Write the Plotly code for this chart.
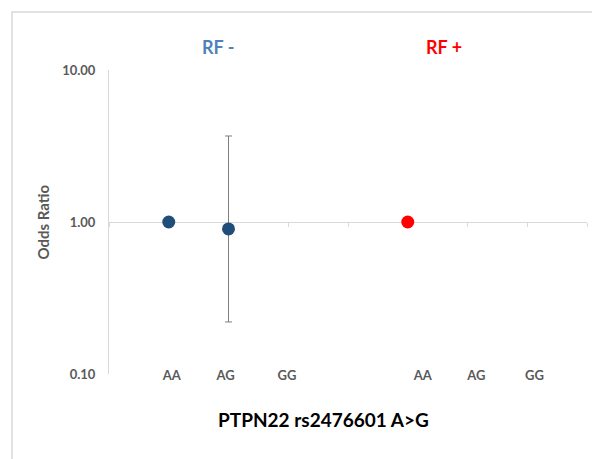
import plotly.graph_objects as go

# ---- data ----
categories = ["AA", "AG", "GG", "AA", "AG", "GG"]
label_pos = [1.05, 1.95, 2.98, 5.25, 6.15, 7.12]

rf_neg_x = [1, 2]
rf_neg_or = [1.00, 0.90]
rf_neg_upper = [1.00, 3.68]
rf_neg_lower = [1.00, 0.22]

rf_pos_x = [5]
rf_pos_or = [1.00]

y_tickvals = [0.1, 1, 10]
y_ticktext = ["0.10", "1.00", "10.00"]

FONT = "Lato"
GRAY = "#595959"
LINE = "#D9D9D9"

err_plus = [u - v for u, v in zip(rf_neg_upper, rf_neg_or)]
err_minus = [v - l for v, l in zip(rf_neg_or, rf_neg_lower)]

fig = go.Figure()

fig.add_trace(go.Scatter(
    x=rf_neg_x, y=rf_neg_or, mode="markers",
    marker=dict(color="#1F4E79", size=13),
    error_y=dict(type="data", symmetric=False, array=err_plus, arrayminus=err_minus,
                 color="#7F7F7F", thickness=1, width=3.5),
    showlegend=False, xaxis="x2",
))
fig.add_trace(go.Scatter(
    x=rf_pos_x, y=rf_pos_or, mode="markers",
    marker=dict(color="#FF0000", size=13),
    showlegend=False, xaxis="x2",
))

fig.update_layout(
    width=592, height=459,
    margin=dict(l=109, r=5, t=70, b=85),
    paper_bgcolor="white", plot_bgcolor="white",
    font=dict(family=FONT, color=GRAY),
    xaxis=dict(
        range=[0, 8], tickvals=label_pos, ticktext=categories,
        showline=False, showgrid=False, zeroline=False, ticks="",
        tickfont=dict(family=FONT, size=13, color=GRAY, weight="bold"),
        ticklabelstandoff=-8,
    ),
    xaxis2=dict(
        range=[0, 8], overlaying="x", anchor="free", position=0.5, side="bottom",
        tickvals=list(range(0, 9)), showticklabels=False,
        ticks="outside", ticklen=4, tickcolor=LINE, tickwidth=1,
        showline=True, linecolor=LINE, linewidth=1,
        showgrid=False, zeroline=False, layer="below traces",
    ),
    yaxis=dict(
        type="log", range=[-1, 1], tickvals=y_tickvals, ticktext=y_ticktext,
        showline=True, linecolor=LINE, linewidth=1, showgrid=False, ticks="",
        tickfont=dict(family=FONT, size=13, color=GRAY, weight="bold"),
        ticklabelstandoff=10, layer="below traces",
    ),
    shapes=[dict(type="rect", xref="paper", yref="paper",
                 x0=-0.203, x1=1.1, y0=-0.5, y1=1.191,
                 line=dict(color=LINE, width=1.5), layer="below")],
    annotations=[
        dict(text="RF -", x=1.82, xref="x", y=1.076, yref="paper", showarrow=False,
             xanchor="center", yanchor="middle",
             font=dict(family=FONT, size=18, color="#4F81BD", weight="bold")),
        dict(text="RF +", x=5.6, xref="x", y=1.076, yref="paper", showarrow=False,
             xanchor="center", yanchor="middle",
             font=dict(family=FONT, size=18, color="#FF0000", weight="bold")),
        dict(text="PTPN22 rs2476601 A>G", x=3.59, xref="x", y=-0.151, yref="paper",
             xanchor="center", yanchor="middle",
             showarrow=False, font=dict(family=FONT, size=19, color="black", weight="bold")),
        dict(text="Odds Ratio", x=-0.139, xref="paper", y=0.5, yref="paper",
             xanchor="center", yanchor="middle",
             textangle=-90, showarrow=False,
             font=dict(family=FONT, size=15, color=GRAY, weight="bold")),
    ],
)

fig.write_html("out.html", config={"displayModeBar": False},
               post_script="document.body.style.margin='0';")
